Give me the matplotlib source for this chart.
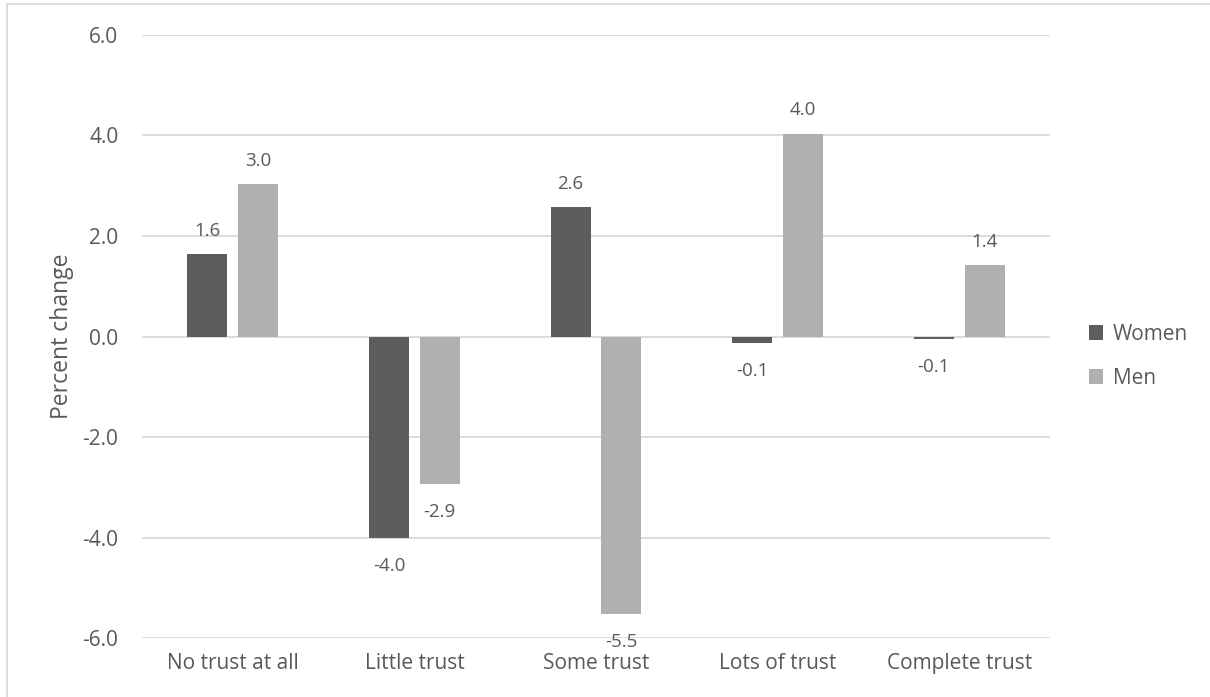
import matplotlib.pyplot as plt
import numpy as np
from matplotlib.patches import Rectangle

plt.rcParams['font.family'] = ['Open Sans', 'DejaVu Sans']

categories = ['No trust at all', 'Little trust', 'Some trust', 'Lots of trust', 'Complete trust']
women = [1.64, -4.01, 2.57, -0.13, -0.05]
men = [3.03, -2.93, -5.52, 4.03, 1.42]

c_women = '#5d5d5d'
c_men = '#b0b0b0'
c_text = '#595959'
c_grid = '#d9d9d9'

fig = plt.figure(figsize=(12.1, 6.97), dpi=100)
ax = fig.add_axes([0.1174, 0.0846, 0.7504, 0.8652])

# outer chart frame (top and left edges only show)
fig.patches.append(Rectangle((6.5/1210, -0.05), 1.2, 1 - 4/697 + 0.05, transform=fig.transFigure,
                             fill=False, edgecolor=c_grid, lw=1.3))

x = np.arange(len(categories))
w = 0.22
off = 0.14
b1 = ax.bar(x - off, women, w, color=c_women, label='Women', zorder=3)
b2 = ax.bar(x + off, men, w, color=c_men, label='Men', zorder=3)

for bars, vals in ((b1, women), (b2, men)):
    for r, v in zip(bars, vals):
        cx = r.get_x() + r.get_width() / 2
        if v >= 0:
            ax.annotate(f'{v:.1f}', (cx, v), xytext=(0, 10.5), textcoords='offset points',
                        ha='center', va='bottom', fontsize=13.5, color=c_text)
        else:
            ax.annotate(f'{v:.1f}', (cx, v), xytext=(0, -14), textcoords='offset points',
                        ha='center', va='top', fontsize=13.5, color=c_text)

ax.set_xlim(-0.5, len(categories) - 0.5)
ax.set_ylim(-6, 6)
ticks = np.arange(-6, 6.1, 2)
ax.set_yticks(ticks)
ax.set_yticklabels([f'{t:.1f}' for t in ticks])
ax.set_xticks(x)
ax.set_xticklabels(categories)
ax.tick_params(axis='both', length=0, labelsize=15, labelcolor=c_text)
ax.tick_params(axis='y', pad=17)
ax.tick_params(axis='x', pad=11)
ax.grid(axis='y', color=c_grid, lw=1.3, zorder=0)
for s in ax.spines.values():
    s.set_visible(False)

ax.set_ylabel('Percent change', fontsize=16.5, color=c_text, labelpad=6)

ax.legend(loc='center left', bbox_to_anchor=(1.022, 0.467), frameon=False, fontsize=15,
          labelcolor=c_text, handlelength=0.7, handleheight=0.7, handletextpad=0.45,
          labelspacing=1.1)

fig.savefig('out.png', dpi=100)
